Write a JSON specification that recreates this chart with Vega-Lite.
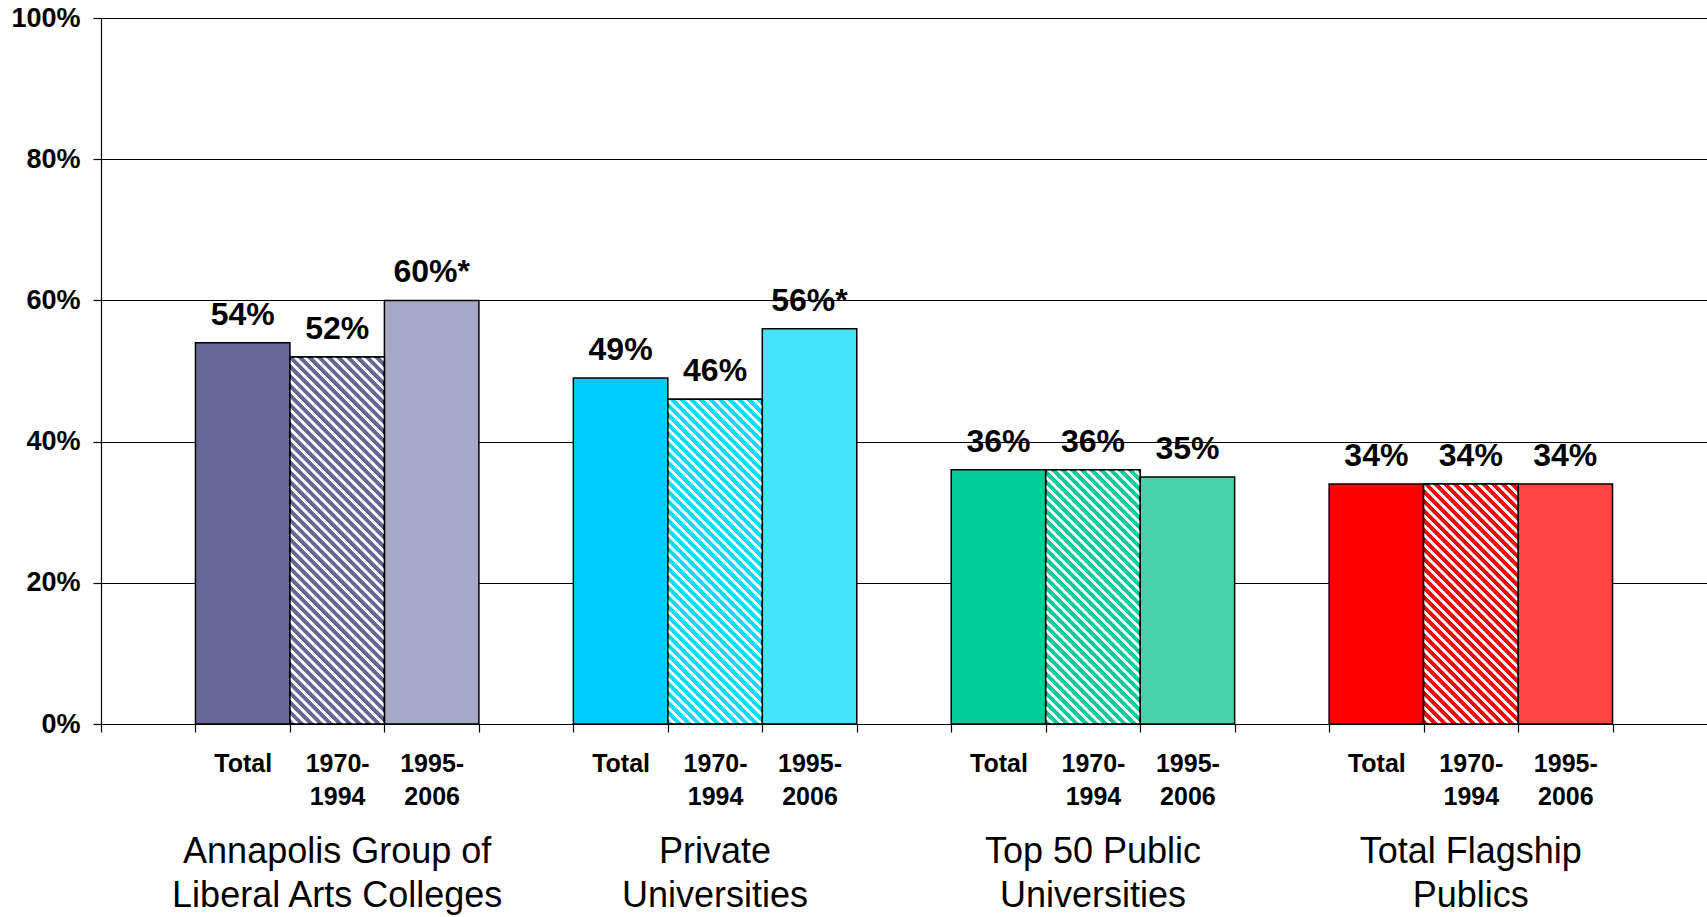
{
  "$schema": "https://vega.github.io/schema/vega-lite/v6.json",
  "autosize": "none",
  "padding": {"left": 101, "top": 18, "right": 0, "bottom": 193},
  "width": 1606,
  "height": 706,
  "background": "white",
  "config": {"view": {"stroke": null}, "font": "Liberation Sans"},
  "data": {"values": [
    {"slot": "A|T", "p": "Total", "v": 0.54, "label": "54%"},
    {"slot": "A|1", "p": "1970-1994", "v": 0.52, "label": "52%"},
    {"slot": "A|2", "p": "1995-2006", "v": 0.60, "label": "60%*"},
    {"slot": "B|T", "p": "Total", "v": 0.49, "label": "49%"},
    {"slot": "B|1", "p": "1970-1994", "v": 0.46, "label": "46%"},
    {"slot": "B|2", "p": "1995-2006", "v": 0.56, "label": "56%*"},
    {"slot": "C|T", "p": "Total", "v": 0.36, "label": "36%"},
    {"slot": "C|1", "p": "1970-1994", "v": 0.36, "label": "36%"},
    {"slot": "C|2", "p": "1995-2006", "v": 0.35, "label": "35%"},
    {"slot": "D|T", "p": "Total", "v": 0.34, "label": "34%"},
    {"slot": "D|1", "p": "1970-1994", "v": 0.34, "label": "34%"},
    {"slot": "D|2", "p": "1995-2006", "v": 0.34, "label": "34%"}
  ]},
  "layer": [
    {
      "mark": {"type": "bar", "stroke": "black", "strokeWidth": 1.5},
      "encoding": {
        "x": {
          "field": "slot", "type": "nominal",
          "scale": {"type": "band", "domain": ["b0","A|T","A|1","A|2","b1","B|T","B|1","B|2","b2","C|T","C|1","C|2","b3","D|T","D|1","D|2","b4"], "paddingInner": 0, "paddingOuter": 0},
          "axis": {
            "title": null,
            "labelExpr": "indexof(datum.value,'|T')>0 ? 'Total' : indexof(datum.value,'|1')>0 ? ['1970-','1994'] : indexof(datum.value,'|2')>0 ? ['1995-','2006'] : ''",
            "labelFont": "Liberation Sans", "labelFontWeight": "bold", "labelFontSize": 25, "labelColor": "black",
            "labelLineHeight": 33, "labelPadding": 19, "labelAngle": 0,
            "tickOffset": -47.235, "labelOffset": 47.235,
            "tickSize": 8, "tickColor": "black", "tickWidth": 1.2,
            "domainColor": "black", "domainWidth": 1.2, "grid": false
          }
        },
        "y": {
          "field": "v", "type": "quantitative", "title": null,
          "scale": {"domain": [0, 1], "nice": false},
          "axis": {
            "values": [0, 0.2, 0.4, 0.6, 0.8, 1], "format": ".0%",
            "labelFont": "Liberation Sans", "labelFontWeight": "bold", "labelFontSize": 27, "labelColor": "black",
            "labelPadding": 13, "tickSize": 8, "tickColor": "black", "tickWidth": 1.2,
            "domainColor": "black", "domainWidth": 1.2,
            "grid": true, "gridColor": "black", "gridWidth": 1.2, "gridOpacity": 1
          }
        },
        "fill": {
          "field": "slot", "type": "nominal", "legend": null,
          "scale": {
            "domain": ["A|T","A|1","A|2","B|T","B|1","B|2","C|T","C|1","C|2","D|T","D|1","D|2"],
            "range": ["#666699","#666699","#a7a7c8","#00ccff","#00dcff","#45e4ff","#00cc99","#00cc99","#48d2aa","#ff0000","#ff0000","#ff4444"]
          }
        }
      }
    },
    {
      "transform": [{"filter": "datum.slot === 'A|1'"}],
      "mark": {
        "type": "bar", "stroke": "black", "strokeWidth": 1.5,
        "fill": {"gradient": "linear", "x1": 0, "y1": 1, "x2": 0.31555, "y2": -0.22627, "stops": [
{"offset":0,"color":"#fff0"},{"offset":0.01,"color":"#fff0"},{"offset":0.0115,"color":"#fff"},{"offset":0.0185,"color":"#fff"},
{"offset":0.02,"color":"#fff0"},{"offset":0.03,"color":"#fff0"},{"offset":0.0315,"color":"#fff"},{"offset":0.0385,"color":"#fff"},
{"offset":0.04,"color":"#fff0"},{"offset":0.05,"color":"#fff0"},{"offset":0.0515,"color":"#fff"},{"offset":0.0585,"color":"#fff"},
{"offset":0.06,"color":"#fff0"},{"offset":0.07,"color":"#fff0"},{"offset":0.0715,"color":"#fff"},{"offset":0.0785,"color":"#fff"},
{"offset":0.08,"color":"#fff0"},{"offset":0.09,"color":"#fff0"},{"offset":0.0915,"color":"#fff"},{"offset":0.0985,"color":"#fff"},
{"offset":0.1,"color":"#fff0"},{"offset":0.11,"color":"#fff0"},{"offset":0.1115,"color":"#fff"},{"offset":0.1185,"color":"#fff"},
{"offset":0.12,"color":"#fff0"},{"offset":0.13,"color":"#fff0"},{"offset":0.1315,"color":"#fff"},{"offset":0.1385,"color":"#fff"},
{"offset":0.14,"color":"#fff0"},{"offset":0.15,"color":"#fff0"},{"offset":0.1515,"color":"#fff"},{"offset":0.1585,"color":"#fff"},
{"offset":0.16,"color":"#fff0"},{"offset":0.17,"color":"#fff0"},{"offset":0.1715,"color":"#fff"},{"offset":0.1785,"color":"#fff"},
{"offset":0.18,"color":"#fff0"},{"offset":0.19,"color":"#fff0"},{"offset":0.1915,"color":"#fff"},{"offset":0.1985,"color":"#fff"},
{"offset":0.2,"color":"#fff0"},{"offset":0.21,"color":"#fff0"},{"offset":0.2115,"color":"#fff"},{"offset":0.2185,"color":"#fff"},
{"offset":0.22,"color":"#fff0"},{"offset":0.23,"color":"#fff0"},{"offset":0.2315,"color":"#fff"},{"offset":0.2385,"color":"#fff"},
{"offset":0.24,"color":"#fff0"},{"offset":0.25,"color":"#fff0"},{"offset":0.2515,"color":"#fff"},{"offset":0.2585,"color":"#fff"},
{"offset":0.26,"color":"#fff0"},{"offset":0.27,"color":"#fff0"},{"offset":0.2715,"color":"#fff"},{"offset":0.2785,"color":"#fff"},
{"offset":0.28,"color":"#fff0"},{"offset":0.29,"color":"#fff0"},{"offset":0.2915,"color":"#fff"},{"offset":0.2985,"color":"#fff"},
{"offset":0.3,"color":"#fff0"},{"offset":0.31,"color":"#fff0"},{"offset":0.3115,"color":"#fff"},{"offset":0.3185,"color":"#fff"},
{"offset":0.32,"color":"#fff0"},{"offset":0.33,"color":"#fff0"},{"offset":0.3315,"color":"#fff"},{"offset":0.3385,"color":"#fff"},
{"offset":0.34,"color":"#fff0"},{"offset":0.35,"color":"#fff0"},{"offset":0.3515,"color":"#fff"},{"offset":0.3585,"color":"#fff"},
{"offset":0.36,"color":"#fff0"},{"offset":0.37,"color":"#fff0"},{"offset":0.3715,"color":"#fff"},{"offset":0.3785,"color":"#fff"},
{"offset":0.38,"color":"#fff0"},{"offset":0.39,"color":"#fff0"},{"offset":0.3915,"color":"#fff"},{"offset":0.3985,"color":"#fff"},
{"offset":0.4,"color":"#fff0"},{"offset":0.41,"color":"#fff0"},{"offset":0.4115,"color":"#fff"},{"offset":0.4185,"color":"#fff"},
{"offset":0.42,"color":"#fff0"},{"offset":0.43,"color":"#fff0"},{"offset":0.4315,"color":"#fff"},{"offset":0.4385,"color":"#fff"},
{"offset":0.44,"color":"#fff0"},{"offset":0.45,"color":"#fff0"},{"offset":0.4515,"color":"#fff"},{"offset":0.4585,"color":"#fff"},
{"offset":0.46,"color":"#fff0"},{"offset":0.47,"color":"#fff0"},{"offset":0.4715,"color":"#fff"},{"offset":0.4785,"color":"#fff"},
{"offset":0.48,"color":"#fff0"},{"offset":0.49,"color":"#fff0"},{"offset":0.4915,"color":"#fff"},{"offset":0.4985,"color":"#fff"},
{"offset":0.5,"color":"#fff0"},{"offset":0.51,"color":"#fff0"},{"offset":0.5115,"color":"#fff"},{"offset":0.5185,"color":"#fff"},
{"offset":0.52,"color":"#fff0"},{"offset":0.53,"color":"#fff0"},{"offset":0.5315,"color":"#fff"},{"offset":0.5385,"color":"#fff"},
{"offset":0.54,"color":"#fff0"},{"offset":0.55,"color":"#fff0"},{"offset":0.5515,"color":"#fff"},{"offset":0.5585,"color":"#fff"},
{"offset":0.56,"color":"#fff0"},{"offset":0.57,"color":"#fff0"},{"offset":0.5715,"color":"#fff"},{"offset":0.5785,"color":"#fff"},
{"offset":0.58,"color":"#fff0"},{"offset":0.59,"color":"#fff0"},{"offset":0.5915,"color":"#fff"},{"offset":0.5985,"color":"#fff"},
{"offset":0.6,"color":"#fff0"},{"offset":0.61,"color":"#fff0"},{"offset":0.6115,"color":"#fff"},{"offset":0.6185,"color":"#fff"},
{"offset":0.62,"color":"#fff0"},{"offset":0.63,"color":"#fff0"},{"offset":0.6315,"color":"#fff"},{"offset":0.6385,"color":"#fff"},
{"offset":0.64,"color":"#fff0"},{"offset":0.65,"color":"#fff0"},{"offset":0.6515,"color":"#fff"},{"offset":0.6585,"color":"#fff"},
{"offset":0.66,"color":"#fff0"},{"offset":0.67,"color":"#fff0"},{"offset":0.6715,"color":"#fff"},{"offset":0.6785,"color":"#fff"},
{"offset":0.68,"color":"#fff0"},{"offset":0.69,"color":"#fff0"},{"offset":0.6915,"color":"#fff"},{"offset":0.6985,"color":"#fff"},
{"offset":0.7,"color":"#fff0"},{"offset":0.71,"color":"#fff0"},{"offset":0.7115,"color":"#fff"},{"offset":0.7185,"color":"#fff"},
{"offset":0.72,"color":"#fff0"},{"offset":0.73,"color":"#fff0"},{"offset":0.7315,"color":"#fff"},{"offset":0.7385,"color":"#fff"},
{"offset":0.74,"color":"#fff0"},{"offset":0.75,"color":"#fff0"},{"offset":0.7515,"color":"#fff"},{"offset":0.7585,"color":"#fff"},
{"offset":0.76,"color":"#fff0"},{"offset":0.77,"color":"#fff0"},{"offset":0.7715,"color":"#fff"},{"offset":0.7785,"color":"#fff"},
{"offset":0.78,"color":"#fff0"},{"offset":0.79,"color":"#fff0"},{"offset":0.7915,"color":"#fff"},{"offset":0.7985,"color":"#fff"},
{"offset":0.8,"color":"#fff0"},{"offset":0.81,"color":"#fff0"},{"offset":0.8115,"color":"#fff"},{"offset":0.8185,"color":"#fff"},
{"offset":0.82,"color":"#fff0"},{"offset":0.83,"color":"#fff0"},{"offset":0.8315,"color":"#fff"},{"offset":0.8385,"color":"#fff"},
{"offset":0.84,"color":"#fff0"},{"offset":0.85,"color":"#fff0"},{"offset":0.8515,"color":"#fff"},{"offset":0.8585,"color":"#fff"},
{"offset":0.86,"color":"#fff0"},{"offset":0.87,"color":"#fff0"},{"offset":0.8715,"color":"#fff"},{"offset":0.8785,"color":"#fff"},
{"offset":0.88,"color":"#fff0"},{"offset":0.89,"color":"#fff0"},{"offset":0.8915,"color":"#fff"},{"offset":0.8985,"color":"#fff"},
{"offset":0.9,"color":"#fff0"},{"offset":0.91,"color":"#fff0"},{"offset":0.9115,"color":"#fff"},{"offset":0.9185,"color":"#fff"},
{"offset":0.92,"color":"#fff0"},{"offset":0.93,"color":"#fff0"},{"offset":0.9315,"color":"#fff"},{"offset":0.9385,"color":"#fff"},
{"offset":0.94,"color":"#fff0"},{"offset":0.95,"color":"#fff0"},{"offset":0.9515,"color":"#fff"},{"offset":0.9585,"color":"#fff"},
{"offset":0.96,"color":"#fff0"},{"offset":0.97,"color":"#fff0"},{"offset":0.9715,"color":"#fff"},{"offset":0.9785,"color":"#fff"}
        ]}
      },
      "encoding": {
        "x": {"field": "slot", "type": "nominal"},
        "y": {"field": "v", "type": "quantitative"}
      }
    },
    {
      "transform": [{"filter": "datum.slot === 'B|1'"}],
      "mark": {
        "type": "bar", "stroke": "black", "strokeWidth": 1.5,
        "fill": {"gradient": "linear", "x1": 0, "y1": 1, "x2": 0.3964, "y2": -0.3627, "stops": [
{"offset":0,"color":"#fff0"},{"offset":0.01,"color":"#fff0"},{"offset":0.0115,"color":"#fff"},{"offset":0.0185,"color":"#fff"},
{"offset":0.02,"color":"#fff0"},{"offset":0.03,"color":"#fff0"},{"offset":0.0315,"color":"#fff"},{"offset":0.0385,"color":"#fff"},
{"offset":0.04,"color":"#fff0"},{"offset":0.05,"color":"#fff0"},{"offset":0.0515,"color":"#fff"},{"offset":0.0585,"color":"#fff"},
{"offset":0.06,"color":"#fff0"},{"offset":0.07,"color":"#fff0"},{"offset":0.0715,"color":"#fff"},{"offset":0.0785,"color":"#fff"},
{"offset":0.08,"color":"#fff0"},{"offset":0.09,"color":"#fff0"},{"offset":0.0915,"color":"#fff"},{"offset":0.0985,"color":"#fff"},
{"offset":0.1,"color":"#fff0"},{"offset":0.11,"color":"#fff0"},{"offset":0.1115,"color":"#fff"},{"offset":0.1185,"color":"#fff"},
{"offset":0.12,"color":"#fff0"},{"offset":0.13,"color":"#fff0"},{"offset":0.1315,"color":"#fff"},{"offset":0.1385,"color":"#fff"},
{"offset":0.14,"color":"#fff0"},{"offset":0.15,"color":"#fff0"},{"offset":0.1515,"color":"#fff"},{"offset":0.1585,"color":"#fff"},
{"offset":0.16,"color":"#fff0"},{"offset":0.17,"color":"#fff0"},{"offset":0.1715,"color":"#fff"},{"offset":0.1785,"color":"#fff"},
{"offset":0.18,"color":"#fff0"},{"offset":0.19,"color":"#fff0"},{"offset":0.1915,"color":"#fff"},{"offset":0.1985,"color":"#fff"},
{"offset":0.2,"color":"#fff0"},{"offset":0.21,"color":"#fff0"},{"offset":0.2115,"color":"#fff"},{"offset":0.2185,"color":"#fff"},
{"offset":0.22,"color":"#fff0"},{"offset":0.23,"color":"#fff0"},{"offset":0.2315,"color":"#fff"},{"offset":0.2385,"color":"#fff"},
{"offset":0.24,"color":"#fff0"},{"offset":0.25,"color":"#fff0"},{"offset":0.2515,"color":"#fff"},{"offset":0.2585,"color":"#fff"},
{"offset":0.26,"color":"#fff0"},{"offset":0.27,"color":"#fff0"},{"offset":0.2715,"color":"#fff"},{"offset":0.2785,"color":"#fff"},
{"offset":0.28,"color":"#fff0"},{"offset":0.29,"color":"#fff0"},{"offset":0.2915,"color":"#fff"},{"offset":0.2985,"color":"#fff"},
{"offset":0.3,"color":"#fff0"},{"offset":0.31,"color":"#fff0"},{"offset":0.3115,"color":"#fff"},{"offset":0.3185,"color":"#fff"},
{"offset":0.32,"color":"#fff0"},{"offset":0.33,"color":"#fff0"},{"offset":0.3315,"color":"#fff"},{"offset":0.3385,"color":"#fff"},
{"offset":0.34,"color":"#fff0"},{"offset":0.35,"color":"#fff0"},{"offset":0.3515,"color":"#fff"},{"offset":0.3585,"color":"#fff"},
{"offset":0.36,"color":"#fff0"},{"offset":0.37,"color":"#fff0"},{"offset":0.3715,"color":"#fff"},{"offset":0.3785,"color":"#fff"},
{"offset":0.38,"color":"#fff0"},{"offset":0.39,"color":"#fff0"},{"offset":0.3915,"color":"#fff"},{"offset":0.3985,"color":"#fff"},
{"offset":0.4,"color":"#fff0"},{"offset":0.41,"color":"#fff0"},{"offset":0.4115,"color":"#fff"},{"offset":0.4185,"color":"#fff"},
{"offset":0.42,"color":"#fff0"},{"offset":0.43,"color":"#fff0"},{"offset":0.4315,"color":"#fff"},{"offset":0.4385,"color":"#fff"},
{"offset":0.44,"color":"#fff0"},{"offset":0.45,"color":"#fff0"},{"offset":0.4515,"color":"#fff"},{"offset":0.4585,"color":"#fff"},
{"offset":0.46,"color":"#fff0"},{"offset":0.47,"color":"#fff0"},{"offset":0.4715,"color":"#fff"},{"offset":0.4785,"color":"#fff"},
{"offset":0.48,"color":"#fff0"},{"offset":0.49,"color":"#fff0"},{"offset":0.4915,"color":"#fff"},{"offset":0.4985,"color":"#fff"},
{"offset":0.5,"color":"#fff0"},{"offset":0.51,"color":"#fff0"},{"offset":0.5115,"color":"#fff"},{"offset":0.5185,"color":"#fff"},
{"offset":0.52,"color":"#fff0"},{"offset":0.53,"color":"#fff0"},{"offset":0.5315,"color":"#fff"},{"offset":0.5385,"color":"#fff"},
{"offset":0.54,"color":"#fff0"},{"offset":0.55,"color":"#fff0"},{"offset":0.5515,"color":"#fff"},{"offset":0.5585,"color":"#fff"},
{"offset":0.56,"color":"#fff0"},{"offset":0.57,"color":"#fff0"},{"offset":0.5715,"color":"#fff"},{"offset":0.5785,"color":"#fff"},
{"offset":0.58,"color":"#fff0"},{"offset":0.59,"color":"#fff0"},{"offset":0.5915,"color":"#fff"},{"offset":0.5985,"color":"#fff"},
{"offset":0.6,"color":"#fff0"},{"offset":0.61,"color":"#fff0"},{"offset":0.6115,"color":"#fff"},{"offset":0.6185,"color":"#fff"},
{"offset":0.62,"color":"#fff0"},{"offset":0.63,"color":"#fff0"},{"offset":0.6315,"color":"#fff"},{"offset":0.6385,"color":"#fff"},
{"offset":0.64,"color":"#fff0"},{"offset":0.65,"color":"#fff0"},{"offset":0.6515,"color":"#fff"},{"offset":0.6585,"color":"#fff"},
{"offset":0.66,"color":"#fff0"},{"offset":0.67,"color":"#fff0"},{"offset":0.6715,"color":"#fff"},{"offset":0.6785,"color":"#fff"},
{"offset":0.68,"color":"#fff0"},{"offset":0.69,"color":"#fff0"},{"offset":0.6915,"color":"#fff"},{"offset":0.6985,"color":"#fff"},
{"offset":0.7,"color":"#fff0"},{"offset":0.71,"color":"#fff0"},{"offset":0.7115,"color":"#fff"},{"offset":0.7185,"color":"#fff"},
{"offset":0.72,"color":"#fff0"},{"offset":0.73,"color":"#fff0"},{"offset":0.7315,"color":"#fff"},{"offset":0.7385,"color":"#fff"},
{"offset":0.74,"color":"#fff0"},{"offset":0.75,"color":"#fff0"},{"offset":0.7515,"color":"#fff"},{"offset":0.7585,"color":"#fff"},
{"offset":0.76,"color":"#fff0"},{"offset":0.77,"color":"#fff0"},{"offset":0.7715,"color":"#fff"},{"offset":0.7785,"color":"#fff"},
{"offset":0.78,"color":"#fff0"},{"offset":0.79,"color":"#fff0"},{"offset":0.7915,"color":"#fff"},{"offset":0.7985,"color":"#fff"},
{"offset":0.8,"color":"#fff0"},{"offset":0.81,"color":"#fff0"},{"offset":0.8115,"color":"#fff"},{"offset":0.8185,"color":"#fff"},
{"offset":0.82,"color":"#fff0"},{"offset":0.83,"color":"#fff0"},{"offset":0.8315,"color":"#fff"},{"offset":0.8385,"color":"#fff"},
{"offset":0.84,"color":"#fff0"},{"offset":0.85,"color":"#fff0"},{"offset":0.8515,"color":"#fff"},{"offset":0.8585,"color":"#fff"},
{"offset":0.86,"color":"#fff0"},{"offset":0.87,"color":"#fff0"},{"offset":0.8715,"color":"#fff"},{"offset":0.8785,"color":"#fff"}
        ]}
      },
      "encoding": {
        "x": {"field": "slot", "type": "nominal"},
        "y": {"field": "v", "type": "quantitative"}
      }
    },
    {
      "transform": [{"filter": "datum.slot === 'C|1'"}],
      "mark": {
        "type": "bar", "stroke": "black", "strokeWidth": 1.5,
        "fill": {"gradient": "linear", "x1": 0, "y1": 1, "x2": 0.61676, "y2": -0.65933, "stops": [
{"offset":0,"color":"#fff0"},{"offset":0.01,"color":"#fff0"},{"offset":0.0115,"color":"#fff"},{"offset":0.0185,"color":"#fff"},
{"offset":0.02,"color":"#fff0"},{"offset":0.03,"color":"#fff0"},{"offset":0.0315,"color":"#fff"},{"offset":0.0385,"color":"#fff"},
{"offset":0.04,"color":"#fff0"},{"offset":0.05,"color":"#fff0"},{"offset":0.0515,"color":"#fff"},{"offset":0.0585,"color":"#fff"},
{"offset":0.06,"color":"#fff0"},{"offset":0.07,"color":"#fff0"},{"offset":0.0715,"color":"#fff"},{"offset":0.0785,"color":"#fff"},
{"offset":0.08,"color":"#fff0"},{"offset":0.09,"color":"#fff0"},{"offset":0.0915,"color":"#fff"},{"offset":0.0985,"color":"#fff"},
{"offset":0.1,"color":"#fff0"},{"offset":0.11,"color":"#fff0"},{"offset":0.1115,"color":"#fff"},{"offset":0.1185,"color":"#fff"},
{"offset":0.12,"color":"#fff0"},{"offset":0.13,"color":"#fff0"},{"offset":0.1315,"color":"#fff"},{"offset":0.1385,"color":"#fff"},
{"offset":0.14,"color":"#fff0"},{"offset":0.15,"color":"#fff0"},{"offset":0.1515,"color":"#fff"},{"offset":0.1585,"color":"#fff"},
{"offset":0.16,"color":"#fff0"},{"offset":0.17,"color":"#fff0"},{"offset":0.1715,"color":"#fff"},{"offset":0.1785,"color":"#fff"},
{"offset":0.18,"color":"#fff0"},{"offset":0.19,"color":"#fff0"},{"offset":0.1915,"color":"#fff"},{"offset":0.1985,"color":"#fff"},
{"offset":0.2,"color":"#fff0"},{"offset":0.21,"color":"#fff0"},{"offset":0.2115,"color":"#fff"},{"offset":0.2185,"color":"#fff"},
{"offset":0.22,"color":"#fff0"},{"offset":0.23,"color":"#fff0"},{"offset":0.2315,"color":"#fff"},{"offset":0.2385,"color":"#fff"},
{"offset":0.24,"color":"#fff0"},{"offset":0.25,"color":"#fff0"},{"offset":0.2515,"color":"#fff"},{"offset":0.2585,"color":"#fff"},
{"offset":0.26,"color":"#fff0"},{"offset":0.27,"color":"#fff0"},{"offset":0.2715,"color":"#fff"},{"offset":0.2785,"color":"#fff"},
{"offset":0.28,"color":"#fff0"},{"offset":0.29,"color":"#fff0"},{"offset":0.2915,"color":"#fff"},{"offset":0.2985,"color":"#fff"},
{"offset":0.3,"color":"#fff0"},{"offset":0.31,"color":"#fff0"},{"offset":0.3115,"color":"#fff"},{"offset":0.3185,"color":"#fff"},
{"offset":0.32,"color":"#fff0"},{"offset":0.33,"color":"#fff0"},{"offset":0.3315,"color":"#fff"},{"offset":0.3385,"color":"#fff"},
{"offset":0.34,"color":"#fff0"},{"offset":0.35,"color":"#fff0"},{"offset":0.3515,"color":"#fff"},{"offset":0.3585,"color":"#fff"},
{"offset":0.36,"color":"#fff0"},{"offset":0.37,"color":"#fff0"},{"offset":0.3715,"color":"#fff"},{"offset":0.3785,"color":"#fff"},
{"offset":0.38,"color":"#fff0"},{"offset":0.39,"color":"#fff0"},{"offset":0.3915,"color":"#fff"},{"offset":0.3985,"color":"#fff"},
{"offset":0.4,"color":"#fff0"},{"offset":0.41,"color":"#fff0"},{"offset":0.4115,"color":"#fff"},{"offset":0.4185,"color":"#fff"},
{"offset":0.42,"color":"#fff0"},{"offset":0.43,"color":"#fff0"},{"offset":0.4315,"color":"#fff"},{"offset":0.4385,"color":"#fff"},
{"offset":0.44,"color":"#fff0"},{"offset":0.45,"color":"#fff0"},{"offset":0.4515,"color":"#fff"},{"offset":0.4585,"color":"#fff"},
{"offset":0.46,"color":"#fff0"},{"offset":0.47,"color":"#fff0"},{"offset":0.4715,"color":"#fff"},{"offset":0.4785,"color":"#fff"},
{"offset":0.48,"color":"#fff0"},{"offset":0.49,"color":"#fff0"},{"offset":0.4915,"color":"#fff"},{"offset":0.4985,"color":"#fff"},
{"offset":0.5,"color":"#fff0"},{"offset":0.51,"color":"#fff0"},{"offset":0.5115,"color":"#fff"},{"offset":0.5185,"color":"#fff"},
{"offset":0.52,"color":"#fff0"},{"offset":0.53,"color":"#fff0"},{"offset":0.5315,"color":"#fff"},{"offset":0.5385,"color":"#fff"},
{"offset":0.54,"color":"#fff0"},{"offset":0.55,"color":"#fff0"},{"offset":0.5515,"color":"#fff"},{"offset":0.5585,"color":"#fff"},
{"offset":0.56,"color":"#fff0"},{"offset":0.57,"color":"#fff0"},{"offset":0.5715,"color":"#fff"},{"offset":0.5785,"color":"#fff"},
{"offset":0.58,"color":"#fff0"},{"offset":0.59,"color":"#fff0"},{"offset":0.5915,"color":"#fff"},{"offset":0.5985,"color":"#fff"},
{"offset":0.6,"color":"#fff0"},{"offset":0.61,"color":"#fff0"},{"offset":0.6115,"color":"#fff"},{"offset":0.6185,"color":"#fff"},
{"offset":0.62,"color":"#fff0"},{"offset":0.63,"color":"#fff0"},{"offset":0.6315,"color":"#fff"},{"offset":0.6385,"color":"#fff"},
{"offset":0.64,"color":"#fff0"},{"offset":0.65,"color":"#fff0"},{"offset":0.6515,"color":"#fff"},{"offset":0.6585,"color":"#fff"},
{"offset":0.66,"color":"#fff0"},{"offset":0.67,"color":"#fff0"},{"offset":0.6715,"color":"#fff"},{"offset":0.6785,"color":"#fff"},
{"offset":0.68,"color":"#fff0"},{"offset":0.69,"color":"#fff0"},{"offset":0.6915,"color":"#fff"},{"offset":0.6985,"color":"#fff"},
{"offset":0.7,"color":"#fff0"},{"offset":0.71,"color":"#fff0"},{"offset":0.7115,"color":"#fff"},{"offset":0.7185,"color":"#fff"},
{"offset":0.72,"color":"#fff0"},{"offset":0.73,"color":"#fff0"},{"offset":0.7315,"color":"#fff"},{"offset":0.7385,"color":"#fff"}
        ]}
      },
      "encoding": {
        "x": {"field": "slot", "type": "nominal"},
        "y": {"field": "v", "type": "quantitative"}
      }
    },
    {
      "transform": [{"filter": "datum.slot === 'D|1'"}],
      "mark": {
        "type": "bar", "stroke": "black", "strokeWidth": 1.5,
        "fill": {"gradient": "linear", "x1": 0, "y1": 1, "x2": 0.68144, "y2": -0.73148, "stops": [
{"offset":0,"color":"#fff0"},{"offset":0.01,"color":"#fff0"},{"offset":0.0115,"color":"#fff"},{"offset":0.0185,"color":"#fff"},
{"offset":0.02,"color":"#fff0"},{"offset":0.03,"color":"#fff0"},{"offset":0.0315,"color":"#fff"},{"offset":0.0385,"color":"#fff"},
{"offset":0.04,"color":"#fff0"},{"offset":0.05,"color":"#fff0"},{"offset":0.0515,"color":"#fff"},{"offset":0.0585,"color":"#fff"},
{"offset":0.06,"color":"#fff0"},{"offset":0.07,"color":"#fff0"},{"offset":0.0715,"color":"#fff"},{"offset":0.0785,"color":"#fff"},
{"offset":0.08,"color":"#fff0"},{"offset":0.09,"color":"#fff0"},{"offset":0.0915,"color":"#fff"},{"offset":0.0985,"color":"#fff"},
{"offset":0.1,"color":"#fff0"},{"offset":0.11,"color":"#fff0"},{"offset":0.1115,"color":"#fff"},{"offset":0.1185,"color":"#fff"},
{"offset":0.12,"color":"#fff0"},{"offset":0.13,"color":"#fff0"},{"offset":0.1315,"color":"#fff"},{"offset":0.1385,"color":"#fff"},
{"offset":0.14,"color":"#fff0"},{"offset":0.15,"color":"#fff0"},{"offset":0.1515,"color":"#fff"},{"offset":0.1585,"color":"#fff"},
{"offset":0.16,"color":"#fff0"},{"offset":0.17,"color":"#fff0"},{"offset":0.1715,"color":"#fff"},{"offset":0.1785,"color":"#fff"},
{"offset":0.18,"color":"#fff0"},{"offset":0.19,"color":"#fff0"},{"offset":0.1915,"color":"#fff"},{"offset":0.1985,"color":"#fff"},
{"offset":0.2,"color":"#fff0"},{"offset":0.21,"color":"#fff0"},{"offset":0.2115,"color":"#fff"},{"offset":0.2185,"color":"#fff"},
{"offset":0.22,"color":"#fff0"},{"offset":0.23,"color":"#fff0"},{"offset":0.2315,"color":"#fff"},{"offset":0.2385,"color":"#fff"},
{"offset":0.24,"color":"#fff0"},{"offset":0.25,"color":"#fff0"},{"offset":0.2515,"color":"#fff"},{"offset":0.2585,"color":"#fff"},
{"offset":0.26,"color":"#fff0"},{"offset":0.27,"color":"#fff0"},{"offset":0.2715,"color":"#fff"},{"offset":0.2785,"color":"#fff"},
{"offset":0.28,"color":"#fff0"},{"offset":0.29,"color":"#fff0"},{"offset":0.2915,"color":"#fff"},{"offset":0.2985,"color":"#fff"},
{"offset":0.3,"color":"#fff0"},{"offset":0.31,"color":"#fff0"},{"offset":0.3115,"color":"#fff"},{"offset":0.3185,"color":"#fff"},
{"offset":0.32,"color":"#fff0"},{"offset":0.33,"color":"#fff0"},{"offset":0.3315,"color":"#fff"},{"offset":0.3385,"color":"#fff"},
{"offset":0.34,"color":"#fff0"},{"offset":0.35,"color":"#fff0"},{"offset":0.3515,"color":"#fff"},{"offset":0.3585,"color":"#fff"},
{"offset":0.36,"color":"#fff0"},{"offset":0.37,"color":"#fff0"},{"offset":0.3715,"color":"#fff"},{"offset":0.3785,"color":"#fff"},
{"offset":0.38,"color":"#fff0"},{"offset":0.39,"color":"#fff0"},{"offset":0.3915,"color":"#fff"},{"offset":0.3985,"color":"#fff"},
{"offset":0.4,"color":"#fff0"},{"offset":0.41,"color":"#fff0"},{"offset":0.4115,"color":"#fff"},{"offset":0.4185,"color":"#fff"},
{"offset":0.42,"color":"#fff0"},{"offset":0.43,"color":"#fff0"},{"offset":0.4315,"color":"#fff"},{"offset":0.4385,"color":"#fff"},
{"offset":0.44,"color":"#fff0"},{"offset":0.45,"color":"#fff0"},{"offset":0.4515,"color":"#fff"},{"offset":0.4585,"color":"#fff"},
{"offset":0.46,"color":"#fff0"},{"offset":0.47,"color":"#fff0"},{"offset":0.4715,"color":"#fff"},{"offset":0.4785,"color":"#fff"},
{"offset":0.48,"color":"#fff0"},{"offset":0.49,"color":"#fff0"},{"offset":0.4915,"color":"#fff"},{"offset":0.4985,"color":"#fff"},
{"offset":0.5,"color":"#fff0"},{"offset":0.51,"color":"#fff0"},{"offset":0.5115,"color":"#fff"},{"offset":0.5185,"color":"#fff"},
{"offset":0.52,"color":"#fff0"},{"offset":0.53,"color":"#fff0"},{"offset":0.5315,"color":"#fff"},{"offset":0.5385,"color":"#fff"},
{"offset":0.54,"color":"#fff0"},{"offset":0.55,"color":"#fff0"},{"offset":0.5515,"color":"#fff"},{"offset":0.5585,"color":"#fff"},
{"offset":0.56,"color":"#fff0"},{"offset":0.57,"color":"#fff0"},{"offset":0.5715,"color":"#fff"},{"offset":0.5785,"color":"#fff"},
{"offset":0.58,"color":"#fff0"},{"offset":0.59,"color":"#fff0"},{"offset":0.5915,"color":"#fff"},{"offset":0.5985,"color":"#fff"},
{"offset":0.6,"color":"#fff0"},{"offset":0.61,"color":"#fff0"},{"offset":0.6115,"color":"#fff"},{"offset":0.6185,"color":"#fff"},
{"offset":0.62,"color":"#fff0"},{"offset":0.63,"color":"#fff0"},{"offset":0.6315,"color":"#fff"},{"offset":0.6385,"color":"#fff"},
{"offset":0.64,"color":"#fff0"},{"offset":0.65,"color":"#fff0"},{"offset":0.6515,"color":"#fff"},{"offset":0.6585,"color":"#fff"},
{"offset":0.66,"color":"#fff0"},{"offset":0.67,"color":"#fff0"},{"offset":0.6715,"color":"#fff"},{"offset":0.6785,"color":"#fff"},
{"offset":0.68,"color":"#fff0"},{"offset":0.69,"color":"#fff0"},{"offset":0.6915,"color":"#fff"},{"offset":0.6985,"color":"#fff"}
        ]}
      },
      "encoding": {
        "x": {"field": "slot", "type": "nominal"},
        "y": {"field": "v", "type": "quantitative"}
      }
    },
    {
      "mark": {"type": "text", "font": "Liberation Sans", "fontWeight": "bold", "fontSize": 32, "color": "black", "align": "center", "baseline": "alphabetic", "dy": -18},
      "encoding": {
        "x": {"field": "slot", "type": "nominal"},
        "y": {"field": "v", "type": "quantitative"},
        "text": {"field": "label", "type": "nominal"}
      }
    },
    {
      "data": {"values": [
        {"slot": "A|1", "group": "Annapolis Group of\nLiberal Arts Colleges"},
        {"slot": "B|1", "group": "Private\nUniversities"},
        {"slot": "C|1", "group": "Top 50 Public\nUniversities"},
        {"slot": "D|1", "group": "Total Flagship\nPublics"}
      ]},
      "mark": {"type": "text", "font": "Liberation Sans", "fontSize": 36, "color": "black", "align": "center", "baseline": "top", "lineBreak": "\n", "lineHeight": 44},
      "encoding": {
        "x": {"field": "slot", "type": "nominal"},
        "y": {"datum": -0.157, "type": "quantitative"},
        "text": {"field": "group", "type": "nominal"}
      }
    }
  ]
}
